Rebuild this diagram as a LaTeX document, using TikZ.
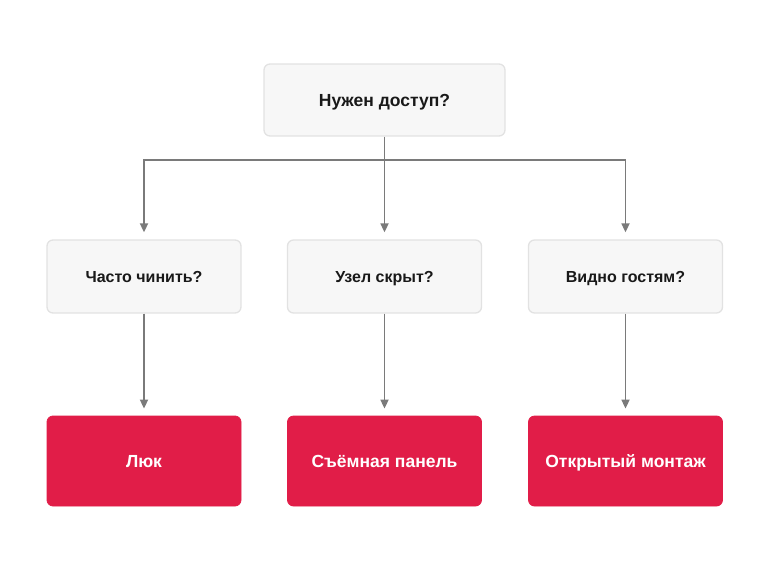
\documentclass[tikz,border=0pt]{standalone}
\usepackage{fontspec}
\setmainfont{Liberation Sans}
\usetikzlibrary{arrows.meta}
\definecolor{qfill}{HTML}{F7F7F7}
\definecolor{qline}{HTML}{E2E2E2}
\definecolor{ared}{HTML}{E11D48}
\definecolor{conn}{HTML}{7A7A7A}
\tikzset{
  qbox/.style={draw=qline, line width=1.3pt, fill=qfill, rounded corners=6pt, minimum width=194pt, minimum height=73pt, inner sep=0pt, text height=11.5pt, text depth=0pt, font=\fontsize{16}{19}\selectfont\bfseries, text=black!90},
  abox/.style={draw=ared, line width=0.8pt, fill=ared, rounded corners=6pt, minimum width=194pt, minimum height=90pt, inner sep=0pt, text height=13.8pt, text depth=0pt, font=\fontsize{17.5}{20}\selectfont\bfseries, text=white},
  link/.style={draw=conn, line width=1.7pt, -{Triangle[length=9pt,width=8pt]}, shorten >=7pt},
}
\begin{document}
\begin{tikzpicture}[x=1pt,y=-1pt]
\useasboundingbox (0,0) rectangle (770,578);
\node[qbox, minimum width=241pt, minimum height=72pt, text height=12pt, font=\fontsize{17.5}{20}\selectfont\bfseries] (top) at (384.5,100) {Нужен доступ?};
\node[qbox] (q1) at (144,276.5) {Часто чинить?};
\node[qbox] (q2) at (384.5,276.5) {Узел скрыт?};
\node[qbox] (q3) at (625.5,276.5) {Видно гостям?};
\node[abox] (a1) at (144,461) {Люк};
\node[abox] (a2) at (384.5,461) {Съёмная панель};
\node[abox] (a3) at (625.5,461) {Открытый монтаж};
\coordinate (bar) at (0,160);
\draw[link] (top.south) -- (q2.north);
\draw[link] (top.south |- bar) -- (q1.north |- bar) -- (q1.north);
\draw[link] (top.south |- bar) -- (q3.north |- bar) -- (q3.north);
\draw[link] (q1.south) -- (a1.north);
\draw[link] (q2.south) -- (a2.north);
\draw[link] (q3.south) -- (a3.north);
\end{tikzpicture}
\end{document}
